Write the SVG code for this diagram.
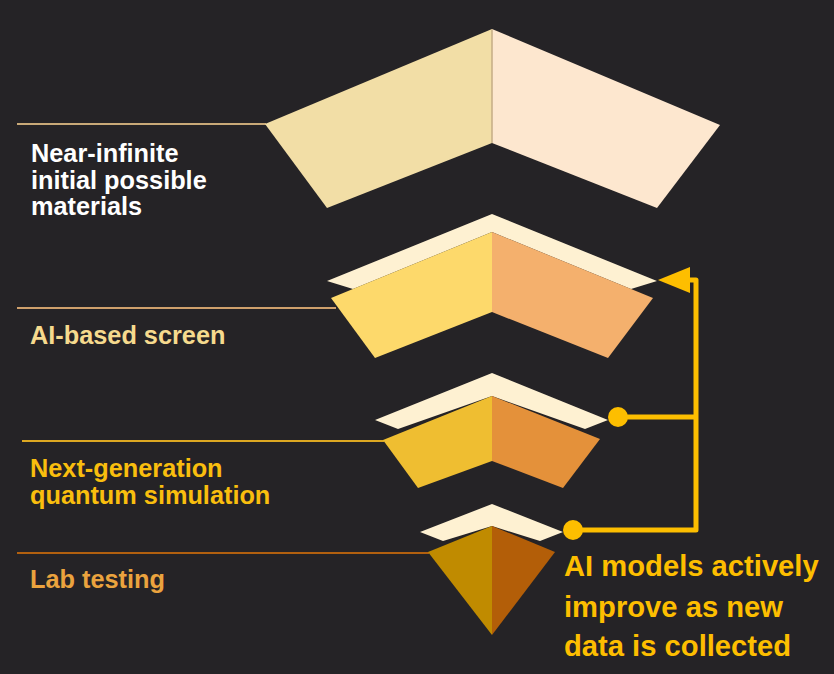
<svg xmlns="http://www.w3.org/2000/svg" width="834" height="674" viewBox="0 0 834 674">
<style>
.lbl{font-family:"Liberation Sans",Arial,sans-serif;font-weight:bold;font-size:25.3px}
.note{font-family:"Liberation Sans",Arial,sans-serif;font-weight:bold;font-size:29.2px;fill:#FDBE00}
.cream{fill:#FEF1D2}
.conn{fill:none;stroke:#FDBE00;stroke-width:5;stroke-linejoin:round}
</style>
<defs>
<marker id="ah" markerUnits="userSpaceOnUse" markerWidth="34" markerHeight="26" refX="0" refY="13" orient="auto" viewBox="0 0 34 26">
<polygon points="0,0 32,13 0,26" fill="#FDBE00"/>
</marker>
</defs>
<rect width="834" height="674" fill="#252326"/>

<g id="tier1">
<line x1="17" y1="124" x2="266" y2="124" stroke="#C9A978" stroke-width="2"/>
<polygon points="265,124 492,29 492,143 327,208" fill="#F2DEA6"/>
<polygon points="492,29 720,125 657,208 492,143" fill="#FDE7CF"/>
<line x1="492" y1="29" x2="492" y2="143" stroke="#C4AD85" stroke-width="1.5"/>
<text class="lbl" fill="#FFFFFF"><tspan x="31" y="162">Near-infinite</tspan><tspan x="31" y="189">initial possible</tspan><tspan x="31" y="215">materials</tspan></text>
</g>

<g id="tier2">
<line x1="17" y1="308" x2="336" y2="308" stroke="#CFA06C" stroke-width="2"/>
<polygon class="cream" points="327,281 492,214 657,281 631,289 492,232 353,289"/>
<polygon points="331,298 492,232 492,312 375,358" fill="#FDD96B"/>
<polygon points="492,232 653,298 608,358 492,312" fill="#F4B06D"/>
<text class="lbl" fill="#F6DA8E" x="30" y="344">AI-based screen</text>
</g>

<g id="tier3">
<line x1="22" y1="441" x2="384" y2="441" stroke="#DDA822" stroke-width="2"/>
<polygon class="cream" points="375,420 492,373 608,420 585,429 492,396 398,429"/>
<polygon points="383,440 492,396 492,461 418,488" fill="#EFBE31"/>
<polygon points="492,396 600,439 563,488 492,461" fill="#E4913A"/>
<text class="lbl" fill="#F9BE0E"><tspan x="30" y="477">Next-generation</tspan><tspan x="30" y="504">quantum simulation</tspan></text>
</g>

<g id="tier4">
<line x1="17" y1="553" x2="429" y2="553" stroke="#B2600F" stroke-width="2"/>
<polygon class="cream" points="420,532 492,504 563,532 540,541 492,526 443,541"/>
<polygon points="428,552 492,526 492,635" fill="#C08B00"/>
<polygon points="492,526 555,552 492,635" fill="#B35E08"/>
<text class="lbl" fill="#EBA33E" x="30" y="588">Lab testing</text>
</g>

<g id="connectors">
<path class="conn" d="M618,417 H696 M573,530 H696 V280 H690" marker-end="url(#ah)"/>
<circle cx="618" cy="417" r="10" fill="#FDBE00"/>
<circle cx="573" cy="530" r="10" fill="#FDBE00"/>
</g>

<g id="note">
<text class="note"><tspan x="564" y="576">AI models actively</tspan><tspan x="564" y="617">improve as new</tspan><tspan x="564" y="656">data is collected</tspan></text>
</g>
</svg>
